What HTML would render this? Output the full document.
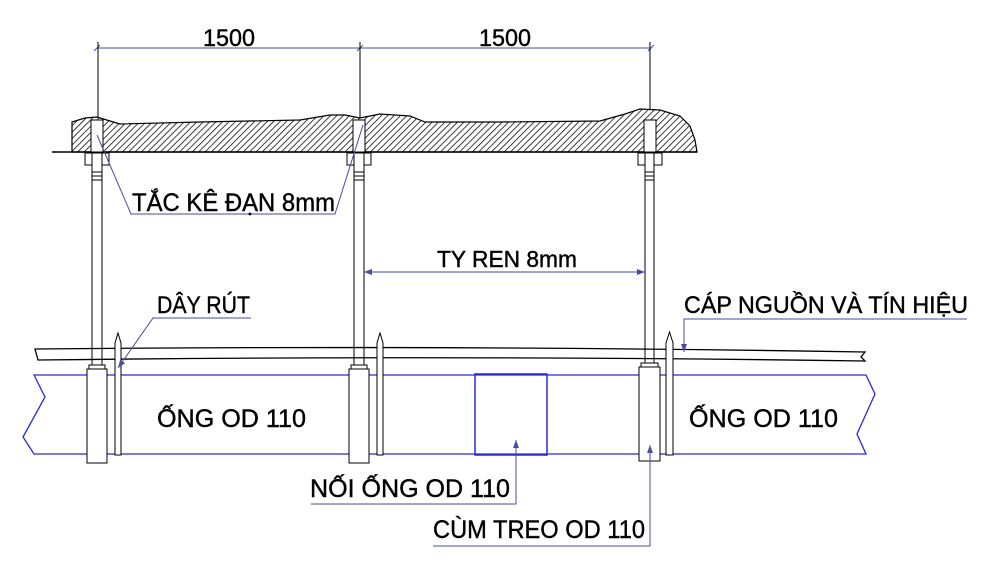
<!DOCTYPE html>
<html><head><meta charset="utf-8"><style>
html,body{margin:0;padding:0;background:#fff;}
svg{display:block;}
text{font-family:"Liberation Sans",sans-serif;fill:#000;stroke:#000;stroke-width:0.4;}
</style></head><body>
<svg width="987" height="564" viewBox="0 0 987 564" xmlns="http://www.w3.org/2000/svg">
<defs>
<pattern id="h" width="4.5" height="4.5" patternUnits="userSpaceOnUse" patternTransform="rotate(45)">
<line x1="0" y1="0" x2="0" y2="4.5" stroke="#000" stroke-width="1.5"/>
</pattern>
<marker id="a" markerWidth="8" markerHeight="6" refX="8" refY="3" orient="auto"><path d="M0,0 L8,3 L0,6z" fill="#4a4aa0"/></marker>
</defs>
<!-- slab -->
<path d="M72,152 L72,122 L85,118 L97,117 L110,121 L120,124 L200,122 L300,120 L330,115 L345,115 L360,118 L380,114 L410,116 L425,122 L500,122 L600,121 L625,114 L640,109 L660,110 L680,116 L690,126 L695,140 L697,152 Z" fill="url(#h)" stroke="#000" stroke-width="1.2"/>
<line x1="52" y1="152" x2="697" y2="152" stroke="#000" stroke-width="1.5"/>
<!-- dimension -->
<g stroke="#4a4aa0" stroke-width="1">
<line x1="97" y1="48" x2="651" y2="48"/>
<line x1="94" y1="51" x2="100" y2="45"/><line x1="357" y1="51" x2="363" y2="45"/><line x1="648" y1="51" x2="654" y2="45"/>
</g>
<g stroke="#000" stroke-width="1">
<line x1="98" y1="42" x2="98" y2="118"/><line x1="360" y1="42" x2="360" y2="118"/><line x1="650" y1="42" x2="650" y2="110"/>
</g>
<text x="203" y="46" font-size="24" textLength="52" lengthAdjust="spacingAndGlyphs">1500</text>
<text x="479" y="46" font-size="24" textLength="52" lengthAdjust="spacingAndGlyphs">1500</text>
<!-- anchors, rods -->
<g fill="#fff" stroke="#000" stroke-width="1">
<rect x="91" y="120" width="12" height="32"/><rect x="353" y="120" width="12" height="32"/><rect x="644" y="120" width="12" height="32"/>
<rect x="85" y="153" width="24" height="12"/><rect x="347" y="153" width="24" height="12"/><rect x="638" y="153" width="24" height="12"/>
<rect x="92" y="153" width="10" height="212"/><rect x="354" y="153" width="10" height="212"/><rect x="645" y="153" width="9" height="212"/>
</g>
<g stroke="#000" stroke-width="1">
<line x1="92" y1="172" x2="102" y2="172"/><line x1="92" y1="176" x2="102" y2="176"/><line x1="92" y1="180" x2="102" y2="180"/>
<line x1="354" y1="172" x2="364" y2="172"/><line x1="354" y1="176" x2="364" y2="176"/><line x1="354" y1="180" x2="364" y2="180"/>
<line x1="645" y1="172" x2="654" y2="172"/><line x1="645" y1="176" x2="654" y2="176"/><line x1="645" y1="180" x2="654" y2="180"/>
</g>
<!-- cable -->
<path d="M35,349 Q450,345 865,352 L861,357 L865,361 Q450,355 38,360 Z" fill="none" stroke="#000" stroke-width="1.3"/>
<!-- pipe -->
<path d="M34,375 L866,375 L875,394 L857,434 L866,454 L34,454 L23,437 L45,397 Z" fill="none" stroke="#2a2ad0" stroke-width="1.3"/>
<rect x="475" y="374" width="72" height="81" fill="none" stroke="#2a2ad0" stroke-width="1.5"/>
<!-- hangers -->
<g fill="#fff" stroke="#000" stroke-width="1">
<rect x="87" y="369" width="20" height="94"/><rect x="89" y="365" width="16" height="4"/>
<rect x="349" y="369" width="20" height="94"/><rect x="351" y="365" width="16" height="4"/>
<rect x="639" y="367" width="21" height="94"/><rect x="641" y="363" width="17" height="4"/>
<path d="M115,455 L115,343 L118,333 L121,343 L121,455 Z"/>
<path d="M377,455 L377,343 L380,333 L383,343 L383,455 Z"/>
<path d="M666,455 L666,343 L669.5,332 L673,343 L673,455 Z"/>
</g>
<!-- leaders -->
<g stroke="#4a4aa0" stroke-width="1" fill="none">
<path d="M97,135 L131,214 L335,214 L363,125"/>
<path d="M251,318 L153,318 L118,368" marker-end="url(#a)"/>
<path d="M967,319 L684,319 L684,352" marker-end="url(#a)"/>
<line x1="645" y1="272" x2="364" y2="272" marker-end="url(#a)"/>
<line x1="364" y1="272" x2="645" y2="272" marker-end="url(#a)"/>
<path d="M311,504 L516,504 L516,440" marker-end="url(#a)"/>
<path d="M433,546 L650,546 L650,445" marker-end="url(#a)"/>
</g>
<!-- labels -->
<text x="132" y="211" font-size="25" textLength="203" lengthAdjust="spacingAndGlyphs">TẮC KÊ ĐẠN 8mm</text>
<text x="437" y="267" font-size="23" textLength="140" lengthAdjust="spacingAndGlyphs">TY REN 8mm</text>
<text x="157" y="313" font-size="24" textLength="93" lengthAdjust="spacingAndGlyphs">DÂY RÚT</text>
<text x="684" y="313" font-size="24" textLength="284" lengthAdjust="spacingAndGlyphs">CÁP NGUỒN VÀ TÍN HIỆU</text>
<text x="157" y="427" font-size="25" textLength="149" lengthAdjust="spacingAndGlyphs">ỐNG OD 110</text>
<text x="689" y="427" font-size="25" textLength="149" lengthAdjust="spacingAndGlyphs">ỐNG OD 110</text>
<text x="310" y="497" font-size="25" textLength="200" lengthAdjust="spacingAndGlyphs">NỐI ỐNG OD 110</text>
<text x="433" y="538" font-size="25" textLength="212" lengthAdjust="spacingAndGlyphs">CÙM TREO OD 110</text>
</svg>
</body></html>
